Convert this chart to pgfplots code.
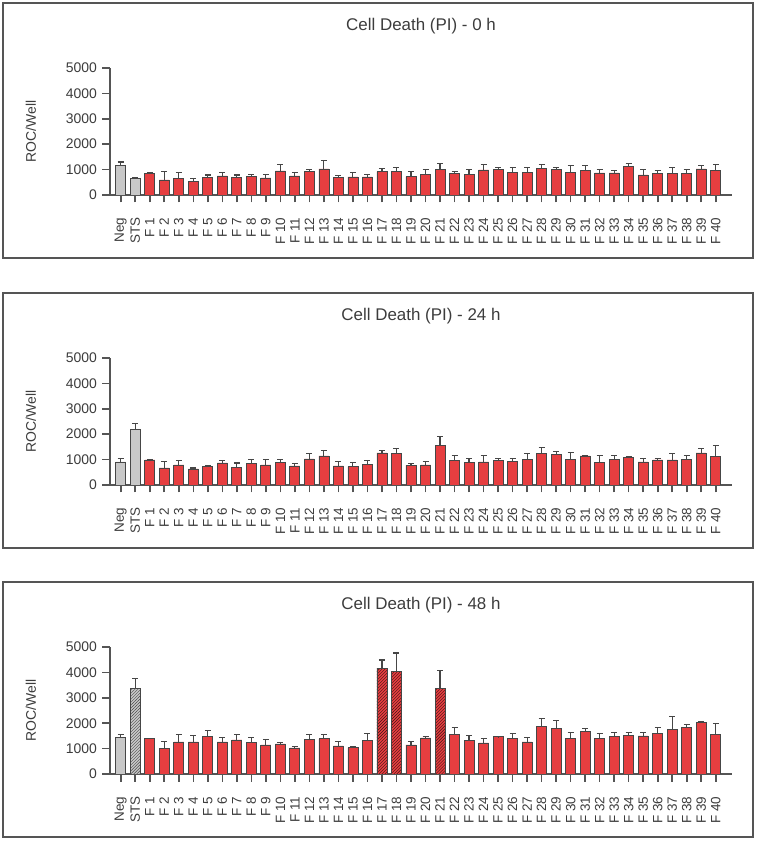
\documentclass[border=0pt]{standalone}
\usepackage{fontspec}
\setmainfont{Liberation Sans}
\usepackage{pgfplots}
\pgfplotsset{compat=1.18}
\usetikzlibrary{patterns}
\definecolor{barred}{RGB}{230,62,64}
\definecolor{bargray}{RGB}{200,200,200}
\definecolor{edge}{RGB}{70,70,70}
\definecolor{axgray}{RGB}{85,85,85}
\definecolor{txt}{RGB}{60,60,60}
\definecolor{hatchred}{RGB}{60,20,20}
\pgfplotsset{
  panel/.style={
    scale only axis, width=622bp, height=127bp, anchor=south west,
    xmin=-0.74, xmax=42.12, ymin=0, ymax=5000,
    axis x line=bottom, axis y line=left,
    axis line style={-, draw=axgray, line width=1.6bp},
    tick style={draw=axgray, line width=1.6bp},
    tick align=outside, major tick length=7.5bp,
    xtick={0,...,41},
    xticklabels={Neg,STS,{F 1},{F 2},{F 3},{F 4},{F 5},{F 6},{F 7},{F 8},{F 9},{F 10},{F 11},{F 12},{F 13},{F 14},{F 15},{F 16},{F 17},{F 18},{F 19},{F 20},{F 21},{F 22},{F 23},{F 24},{F 25},{F 26},{F 27},{F 28},{F 29},{F 30},{F 31},{F 32},{F 33},{F 34},{F 35},{F 36},{F 37},{F 38},{F 39},{F 40}},
    ytick={0,1000,...,5000},
    /pgf/number format/assume math mode=true, /pgf/number format/1000 sep={},
    yticklabel style={font=\fontsize{14}{14}\selectfont, text=txt},
    yticklabel shift=2bp,
    xticklabel style={rotate=90, anchor=east, font=\fontsize{13.5}{13.5}\selectfont, text=txt, inner sep=1bp},
    xticklabel shift=14bp,
    ylabel={ROC/Well},
    ylabel style={at={(axis description cs:-0.127,0.5)}, anchor=center, font=\fontsize{14}{14}\selectfont, text=txt},
    title style={at={(axis description cs:0.5,1)}, anchor=center, yshift=36bp, font=\fontsize{17}{17}\selectfont, text=txt},
  },
  mybar/.style={ybar, bar width=10bp, bar shift=0pt, draw=edge, line width=0.8bp,
    error bars/y dir=plus, error bars/y explicit,
    error bars/error bar style={line width=1.1bp, draw=edge},
    error bars/error mark options={rotate=90, line width=1.1bp, mark size=3bp, draw=edge}},
}
\begin{document}
\begin{tikzpicture}
\useasboundingbox (0bp,0bp) rectangle (758bp,842bp);
\draw[axgray, line width=2bp] (3bp,839bp) rectangle (753bp,584bp);
\draw[axgray, line width=2bp] (3bp,549bp) rectangle (753bp,294bp);
\draw[axgray, line width=2bp] (3bp,260bp) rectangle (753bp,5bp);

% ---------- 0 h ----------
\begin{axis}[panel, at={(110bp,647bp)}, title={Cell Death (PI) - 0 h}]
\addplot[mybar, fill=bargray] coordinates {(0,1170)+-(0,130) (1,645)+-(0,25)};
\addplot[mybar, fill=barred] coordinates {
(2,855)+-(0,10) (3,592)+-(0,316) (4,658)+-(0,237) (5,526)+-(0,130) (6,684)+-(0,105)
(7,750)+-(0,145) (8,684)+-(0,105) (9,737)+-(0,80) (10,671)+-(0,120) (11,947)+-(0,250)
(12,750)+-(0,145) (13,921)+-(0,92) (14,1026)+-(0,316) (15,684)+-(0,66) (16,710)+-(0,158)
(17,710)+-(0,80) (18,921)+-(0,132) (19,921)+-(0,158) (20,724)+-(0,197) (21,816)+-(0,184)
(22,1013)+-(0,211) (23,855)+-(0,79) (24,816)+-(0,171) (25,987)+-(0,197) (26,1000)+-(0,66)
(27,882)+-(0,210) (28,895)+-(0,197) (29,1053)+-(0,144) (30,1000)+-(0,66) (31,895)+-(0,250)
(32,974)+-(0,171) (33,868)+-(0,145) (34,868)+-(0,93) (35,1132)+-(0,105) (36,790)+-(0,197)
(37,855)+-(0,119) (38,855)+-(0,211) (39,855)+-(0,158) (40,1026)+-(0,145) (41,961)+-(0,223)};
\end{axis}

% ---------- 24 h ----------
\begin{axis}[panel, at={(110bp,357bp)}, title={Cell Death (PI) - 24 h}]
\addplot[mybar, fill=bargray] coordinates {(0,908)+-(0,145) (1,2197)+-(0,237)};
\addplot[mybar, fill=barred] coordinates {
(2,987)+-(0,5) (3,671)+-(0,237) (4,790)+-(0,171) (5,632)+-(0,39) (6,724)+-(0,39)
(7,868)+-(0,106) (8,697)+-(0,171) (9,855)+-(0,132) (10,790)+-(0,210) (11,882)+-(0,131)
(12,750)+-(0,105) (13,1026)+-(0,198) (14,1145)+-(0,210) (15,750)+-(0,158) (16,724)+-(0,171)
(17,816)+-(0,158) (18,1263)+-(0,79) (19,1250)+-(0,197) (20,776)+-(0,79) (21,790)+-(0,118)
(22,1553)+-(0,368) (23,974)+-(0,184) (24,895)+-(0,131) (25,908)+-(0,237) (26,961)+-(0,78)
(27,921)+-(0,105) (28,1000)+-(0,224) (29,1237)+-(0,224) (30,1197)+-(0,132) (31,1013)+-(0,250)
(32,1145)+-(0,13) (33,882)+-(0,263) (34,1000)+-(0,171) (35,1092)+-(0,26) (36,908)+-(0,131)
(37,987)+-(0,66) (38,987)+-(0,237) (39,1013)+-(0,145) (40,1263)+-(0,184) (41,1118)+-(0,448)};
\end{axis}

% ---------- 48 h ----------
\begin{axis}[panel, at={(110bp,68bp)}, title={Cell Death (PI) - 48 h}]
\addplot[mybar, fill=bargray] coordinates {(0,1460)+-(0,106)};
\addplot[mybar, fill=bargray, postaction={pattern=north east lines, pattern color=edge}] coordinates {(1,3368)+-(0,382)};
\addplot[mybar, fill=barred] coordinates {
(2,1408)+-(0,5) (3,1000)+-(0,290) (4,1263)+-(0,277) (5,1263)+-(0,237) (6,1487)+-(0,210)
(7,1263)+-(0,158) (8,1342)+-(0,198) (9,1250)+-(0,197) (10,1145)+-(0,197) (11,1184)+-(0,66)
(12,1026)+-(0,66) (13,1355)+-(0,198) (14,1382)+-(0,184) (15,1105)+-(0,185) (16,1039)+-(0,53)
(17,1329)+-(0,276) (20,1145)+-(0,118) (21,1421)+-(0,53)
(23,1566)+-(0,276) (24,1316)+-(0,197) (25,1224)+-(0,158) (26,1461)+-(0,13)
(27,1382)+-(0,197) (28,1263)+-(0,184) (29,1855)+-(0,329) (30,1803)+-(0,315) (31,1408)+-(0,210)
(32,1658)+-(0,145) (33,1382)+-(0,223) (34,1461)+-(0,171) (35,1513)+-(0,105) (36,1500)+-(0,145)
(37,1579)+-(0,237) (38,1750)+-(0,500) (39,1816)+-(0,145) (40,2013)+-(0,66) (41,1566)+-(0,434)};
\addplot[mybar, fill=barred, postaction={pattern=north east lines, pattern color=hatchred}] coordinates {
(18,4145)+-(0,342) (19,4026)+-(0,737) (22,3355)+-(0,711)};
\end{axis}
\end{tikzpicture}
\end{document}
